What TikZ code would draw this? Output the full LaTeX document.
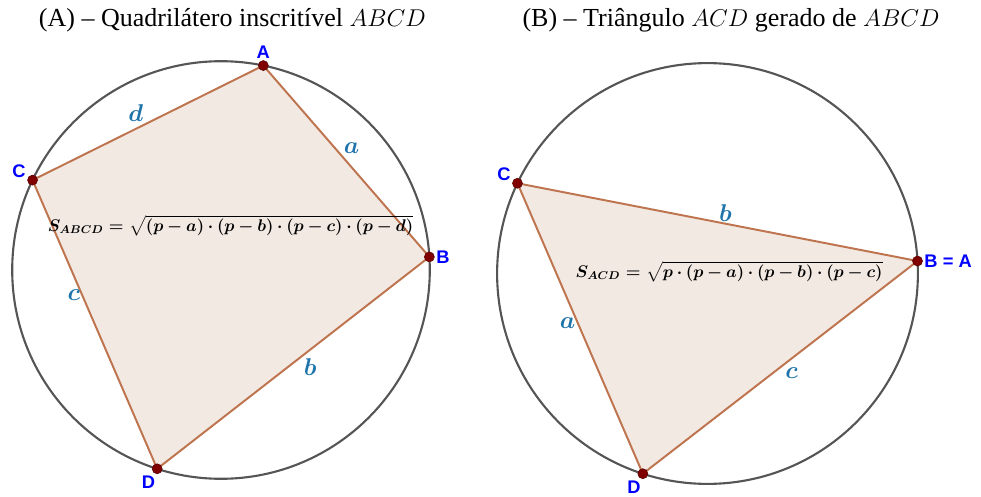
\documentclass[tikz,border=0pt]{standalone}
\usepackage{fontspec}
\setmainfont{Liberation Serif}
\newfontfamily\geofont{Liberation Sans}
\usepackage{amsmath}
\usepackage{bm}

\definecolor{polyfill}{RGB}{243,233,227}
\definecolor{polyedge}{RGB}{190,116,78}
\definecolor{ptred}{RGB}{128,0,0}
\definecolor{ptblue}{RGB}{0,0,255}
\definecolor{sideblue}{RGB}{30,115,170}
\definecolor{circgray}{RGB}{85,85,85}

% tight bold formula
\newcommand{\tightmath}[1]{$\medmuskip=3.5mu #1$}

\tikzset{
  vertex/.style={circle, fill=ptred, draw=ptred!70!black, inner sep=0pt, minimum size=0.25cm},
  vlabel/.style={text=ptblue, font=\geofont\bfseries\fontsize{13}{15}\selectfont, inner sep=1pt},
  side/.style={text=sideblue, font=\fontsize{16}{18}\selectfont, inner sep=1pt},
  edge/.style={draw=polyedge, line width=1.4pt},
  circ/.style={draw=circgray, line width=1.5pt},
  formulabox/.style={font=\fontsize{12}{15}\selectfont\boldmath},
  heading/.style={font=\fontsize{18.5}{22}\selectfont}
}

\begin{document}
\begin{tikzpicture}
\useasboundingbox (0,0) rectangle (24.525,12.4);

% Titles
\node[heading] (titleA) at (5.81,11.9) {(A) -- Quadrilátero inscritível $ABCD$};
\node[heading] (titleB) at (18.275,11.9) {(B) -- Triângulo $ACD$ gerado de $ABCD$};

% (A) cyclic quadrilateral
\begin{scope}[shift={(5.525,5.65)}]
\coordinate (qA) at (78.3:5.22);
\coordinate (qB) at (3.6:5.22);
\coordinate (qC) at (154.5:5.22);
\coordinate (qD) at (252.2:5.22);
\fill[polyfill] (qA) -- (qB) -- (qD) -- (qC) -- cycle;
\draw[circ] (0,0) circle (5.22);
\draw[edge] (qA) -- node[side, pos=0.47, above right] {$\bm{a}$} (qB);
\draw[edge] (qB) -- node[side, pos=0.47, below right] {$\bm{b}$} (qD);
\draw[edge] (qC) -- node[side, pos=0.40, left] {$\bm{c}$} (qD);
\draw[edge] (qC) -- node[side, pos=0.49, above left] {$\bm{d}$} (qA);
\node[vertex, label={[vlabel]above:A}] (pA) at (qA) {};
\node[vertex, label={[vlabel]right:B}] (pB) at (qB) {};
\node[vertex, label={[vlabel]170:C}] (pC) at (qC) {};
\node[vertex, label={[vlabel]265:D}] (pD) at (qD) {};
\node[formulabox] (areaA) at (0.24,1.1) {\tightmath{S_{ABCD}=\sqrt{(p-a)\cdot(p-b)\cdot(p-c)\cdot(p-d)}}};
\end{scope}

% (B) triangle ACD
\begin{scope}[shift={(17.6875,5.5625)}]
\coordinate (tB) at (3.4:5.26);
\coordinate (tC) at (154.6:5.26);
\coordinate (tD) at (252.1:5.26);
\fill[polyfill] (tC) -- (tB) -- (tD) -- cycle;
\draw[circ] (0,0) circle (5.26);
\draw[edge] (tC) -- node[side, pos=0.52, above] {$\bm{b}$} (tB);
\draw[edge] (tC) -- node[side, pos=0.48, left] {$\bm{a}$} (tD);
\draw[edge] (tB) -- node[side, pos=0.49, below right] {$\bm{c}$} (tD);
\node[vertex, label={[vlabel]right:B = A}] (sB) at (tB) {};
\node[vertex, label={[vlabel]170:C}] (sC) at (tC) {};
\node[vertex, label={[vlabel]265:D}] (sD) at (tD) {};
\node[formulabox] (areaB) at (0.54,0.04) {\tightmath{S_{ACD}=\sqrt{p\cdot(p-a)\cdot(p-b)\cdot(p-c)}}};
\end{scope}
\end{tikzpicture}
\end{document}
